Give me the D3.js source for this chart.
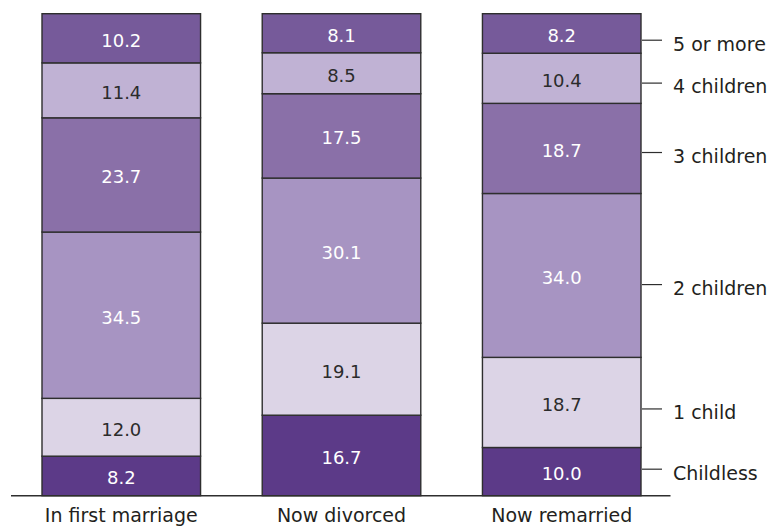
<!DOCTYPE html>
<html>
<head>
<meta charset="utf-8">
<script src="https://cdn.jsdelivr.net/npm/d3@7"></script>
<style>
  html, body { margin: 0; padding: 0; background: #fff; }
  svg { display: block; font-family: "DejaVu Sans", sans-serif; }
</style>
</head>
<body>
<svg id="chart" width="769" height="527"></svg>
<script>
// ---- data ----
const groups = ["In first marriage", "Now divorced", "Now remarried"];
const series = ["Childless", "1 child", "2 children", "3 children", "4 children", "5 or more"];
const childless     = [8.2, 16.7, 10.0];
const oneChild      = [12.0, 19.1, 18.7];
const twoChildren   = [34.5, 30.1, 34.0];
const threeChildren = [23.7, 17.5, 18.7];
const fourChildren  = [11.4, 8.5, 10.4];
const fivePlus      = [10.2, 8.1, 8.2];
// where each series label sits on the right (in percent units)
const labelAt = [5.5, 18.0, 43.8, 71.2, 85.6, 94.5];

const seriesValues = [childless, oneChild, twoChildren, threeChildren, fourChildren, fivePlus];
const colors = ["#5c3a88", "#dcd4e6", "#a794c2", "#8a70a8", "#c0b2d4", "#765a9a"];
const textColors = ["#ffffff", "#2b2b2b", "#ffffff", "#ffffff", "#2b2b2b", "#ffffff"];

const table = groups.map((g, i) => {
  const row = { group: g };
  series.forEach((s, j) => row[s] = seriesValues[j][i]);
  return row;
});

const svg = d3.select("#chart");
const x = d3.scaleBand().domain(groups).range([42, 641]).paddingInner(0.28).paddingOuter(0);
const y = d3.scaleLinear().domain([0, 100]).range([495.7, 13.7]);

const layers = d3.stack().keys(series)(table);

const g = svg.append("g");
layers.forEach((layer, j) => {
  const lg = g.append("g");
  lg.selectAll("rect").data(layer).join("rect")
    .attr("x", d => x(d.data.group))
    .attr("y", d => y(d[1]))
    .attr("width", x.bandwidth())
    .attr("height", d => y(d[0]) - y(d[1]))
    .attr("fill", colors[j])
    .attr("stroke", "#2e2e2e")
    .attr("stroke-width", 1.4);
  lg.selectAll("text").data(layer).join("text")
    .attr("x", d => x(d.data.group) + x.bandwidth() / 2)
    .attr("y", d => (y(d[0]) + y(d[1])) / 2 + 2)
    .attr("dy", "0.36em")
    .attr("text-anchor", "middle")
    .attr("fill", textColors[j])
    .attr("font-size", 18)
    .text(d => (d[1] - d[0]).toFixed(1));
});

// baseline
svg.append("line")
  .attr("x1", 11).attr("x2", 670.5)
  .attr("y1", y(0)).attr("y2", y(0))
  .attr("stroke", "#2e2e2e").attr("stroke-width", 1.4);

// category labels
svg.append("g").selectAll("text").data(groups).join("text")
  .attr("x", d => x(d) + x.bandwidth() / 2)
  .attr("y", 522)
  .attr("text-anchor", "middle")
  .attr("fill", "#231f20")
  .attr("font-size", 19)
  .text(d => d);

// series labels on right
const lastRight = x(groups[groups.length - 1]) + x.bandwidth();
const lab = svg.append("g");
series.forEach((s, j) => {
  const yy = y(labelAt[j]);
  lab.append("line")
    .attr("x1", lastRight + 1).attr("x2", lastRight + 21)
    .attr("y1", yy).attr("y2", yy)
    .attr("stroke", "#2e2e2e").attr("stroke-width", 1.2);
  lab.append("text")
    .attr("x", lastRight + 32)
    .attr("y", yy + 3.5)
    .attr("dy", "0.36em")
    .attr("fill", "#231f20")
    .attr("font-size", 19)
    .text(s);
});
</script>
</body>
</html>
